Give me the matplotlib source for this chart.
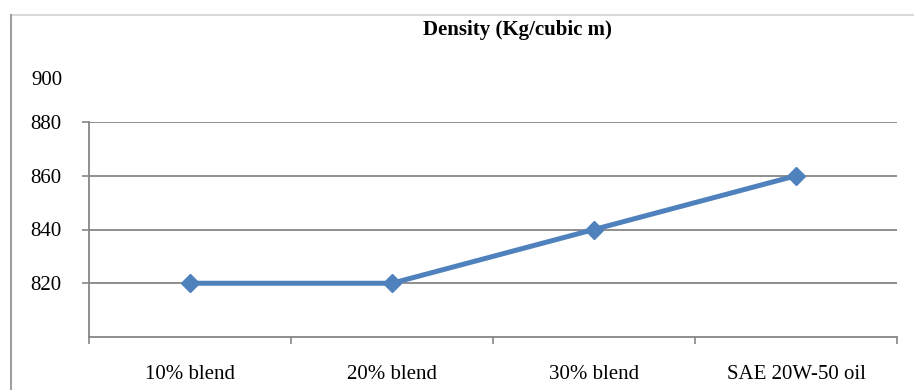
import matplotlib.pyplot as plt
from matplotlib.lines import Line2D
from matplotlib.transforms import ScaledTranslation

# densidad de cada mezcla
categorias = ['10% blend', '20% blend', '30% blend', 'SAE 20W-50 oil']
densidad = [820, 820, 840, 860]
marcas_y = [820, 840, 860, 880]

plt.rcParams['font.family'] = ['Liberation Serif', 'DejaVu Serif']

fig = plt.figure(figsize=(9.14, 3.9), dpi=100)
ax = fig.add_axes([89/914, 53/390, 808/914, 215/390])

x = list(range(len(categorias)))
ax.plot(x, densidad, color='#4F81BD', linewidth=3.6, marker='D', markersize=9.5,
        markeredgecolor='#4F81BD', zorder=3)

ax.set_xlim(-0.5, len(categorias) - 0.5)
ax.set_ylim(800, 880)

# ticks entre categorias, etiquetas centradas
ax.set_xticks([i - 0.5 for i in range(len(categorias) + 1)])
ax.set_xticklabels([])
ax.set_xticks(x, minor=True)
ax.set_xticklabels(categorias, minor=True, fontsize=15)
ax.tick_params(axis='x', which='major', direction='out', length=5, width=1.2, color='#868686')
ax.tick_params(axis='x', which='minor', length=0, pad=20)

ax.set_yticks(marcas_y)
ax.set_yticklabels([str(v) for v in marcas_y], fontsize=15)
ax.tick_params(axis='y', direction='out', length=5, width=1.2, color='#868686', pad=15)

# el "900" queda suelto encima del eje
desplaza = ScaledTranslation(-27/100, 0, fig.dpi_scale_trans)
ax.text(-0.5, 895.5, '900', fontsize=15, ha='right', va='center',
        transform=ax.transData + desplaza, clip_on=False)

ax.grid(axis='y', color='#868686', linewidth=1.3)
ax.set_axisbelow(True)
for s in ['top', 'right']:
    ax.spines[s].set_visible(False)
for s in ['left', 'bottom']:
    ax.spines[s].set_color('#868686')
    ax.spines[s].set_linewidth(1.3)

fig.text(517/914, 1 - 30/390, 'Density (Kg/cubic m)', ha='center', va='center',
         fontsize=15, fontweight='bold')

# marco exterior
fig.add_artist(Line2D([11/914, 1], [1 - 15/390] * 2, color='#d9d9d9', linewidth=1.5))
fig.add_artist(Line2D([11/914] * 2, [0, 1 - 15/390], color='#a0a0a0', linewidth=1.5))

fig.savefig('out.png', dpi=100)
